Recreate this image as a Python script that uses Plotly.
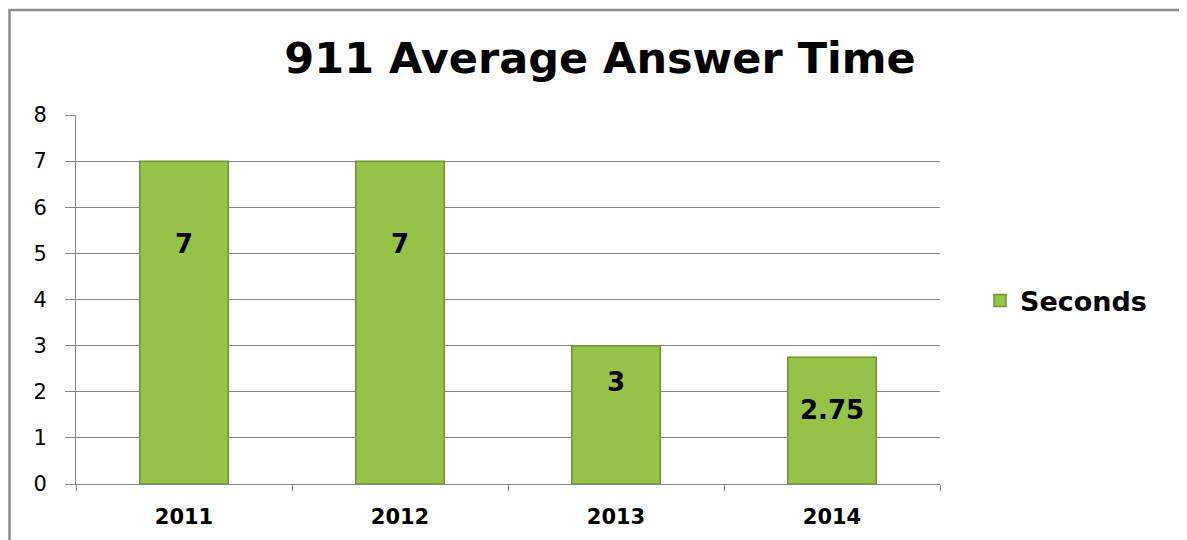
import plotly.graph_objects as go

years = ["2011", "2012", "2013", "2014"]
seconds = [7, 7, 3, 2.75]
label_text = ["7", "7", "3", "2.75"]
label_y = [5.15, 5.15, 2.15, 1.55]
y_ticks = [0, 1, 2, 3, 4, 5, 6, 7, 8]

FONT = "DejaVu Sans"
OFF = 8  # page body margin

W, H = 1187 - OFF, 540 - OFF
ml, mt = 76 - OFF, 115 - OFF
mr = W - (940 - OFF)
mb = H - (484 - OFF)
pw, ph = W - ml - mr, H - mt - mb

fig = go.Figure()
fig.add_trace(go.Bar(
    x=years, y=seconds, name="Seconds", width=0.41,
    marker=dict(color="#96c248", line=dict(color="#6f9430", width=1.5)),
    showlegend=True,
))
fig.add_trace(go.Scatter(
    x=years, y=label_y, text=label_text, mode="text",
    textfont=dict(family=FONT, size=26, color="#000000", weight="bold"),
    showlegend=False, hoverinfo="skip",
))

fig.update_layout(
    width=W, height=H,
    margin=dict(l=ml, r=mr, t=mt, b=mb),
    paper_bgcolor="white", plot_bgcolor="white",
    title=dict(text="<b>911 Average Answer Time</b>", x=(600 - OFF) / W, xanchor="center",
               y=1 - (58 - OFF) / H, yanchor="middle",
               font=dict(family=FONT, size=43, color="#000000")),
    xaxis=dict(type="category", showline=True, linecolor="#868686", linewidth=1,
               ticks="outside", ticklen=6, tickcolor="#868686", tickson="boundaries",
               ticklabelstandoff=14,
               tickfont=dict(family=FONT, size=21, color="#000000", weight="bold"),
               showgrid=False),
    yaxis=dict(range=[0, 8], tickvals=y_ticks, showline=True, linecolor="#868686",
               linewidth=1, ticks="outside", ticklen=10, tickcolor="#868686",
               gridcolor="#868686", gridwidth=1, zeroline=False, ticklabelstandoff=14,
               tickfont=dict(family=FONT, size=21, color="#000000")),
    legend=dict(x=(980 - 76) / pw, y=(484 - 301) / ph, xanchor="left", yanchor="middle",
                font=dict(family=FONT, size=27, color="#000000", weight="bold"),
                bgcolor="rgba(0,0,0,0)"),
    showlegend=True,
    shapes=[dict(type="rect", xref="paper", yref="paper",
                 x0=-(76 - 9.5) / pw, x1=1.5, y0=-0.3, y1=1 + (115 - 10) / ph,
                 line=dict(color="#8c8c8c", width=2.5), fillcolor="rgba(0,0,0,0)",
                 layer="below")],
)

fig.write_html("out.html")
